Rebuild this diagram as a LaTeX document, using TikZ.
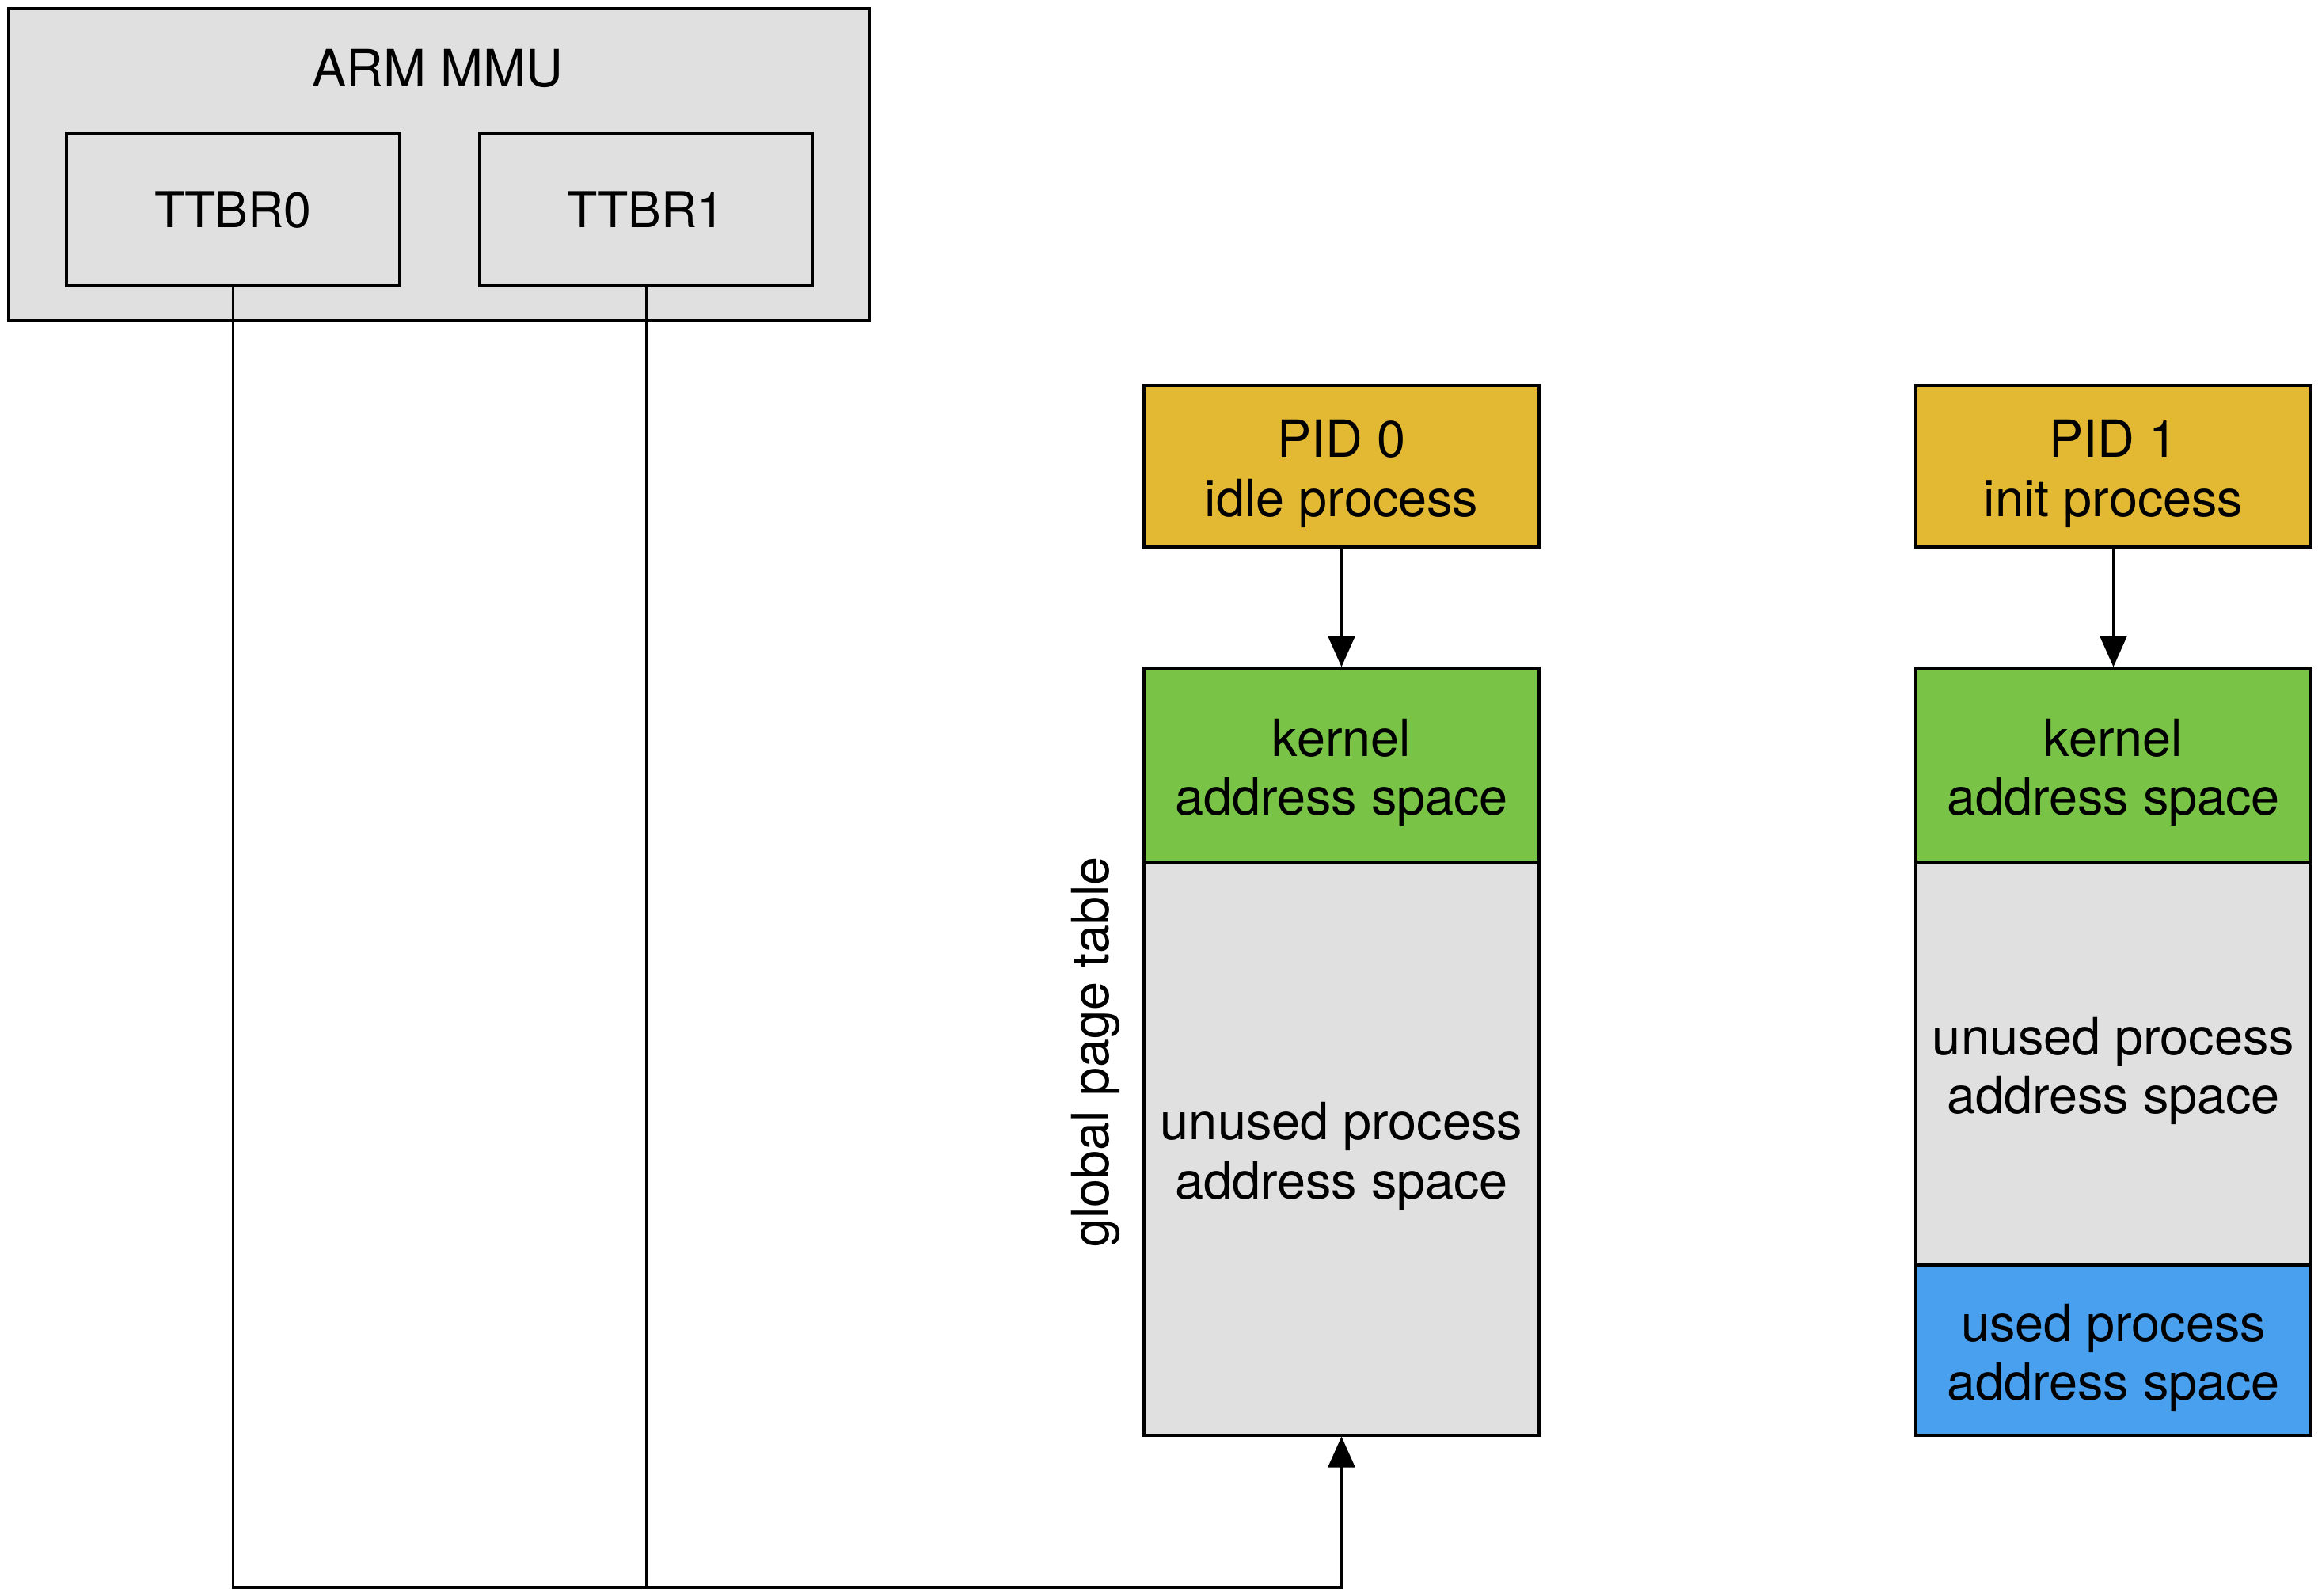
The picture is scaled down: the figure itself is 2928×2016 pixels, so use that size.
\documentclass[tikz,border=0pt]{standalone}
\usepackage{fontspec}
\setmainfont{TeX Gyre Heros}
\usetikzlibrary{arrows.meta}
\definecolor{mmugrey}{RGB}{224,224,224}
\definecolor{pidyellow}{RGB}{227,184,50}
\definecolor{kerngreen}{RGB}{121,196,70}
\definecolor{usedblue}{RGB}{72,160,238}
\newcommand{\twolines}[2]{\rule{0pt}{33pt}#1\\#2}
\tikzset{
  box/.style={draw=black, line width=1.6pt, rectangle, inner sep=0pt, align=center,
    font=\fontsize{32.4}{37.3}\selectfont, minimum width=249.5pt},
  regbox/.style={box, font=\fontsize{31.3}{36.5}\selectfont},
  conn/.style={line width=1.5pt},
  tip/.style={-{Triangle[width=17pt,length=19.5pt]}}
}
\begin{document}
\begin{tikzpicture}[x=0.5pt,y=-0.5pt]
\useasboundingbox (0,0) rectangle (2928,2016);
% ARM MMU
\node[box, fill=mmugrey, minimum width=543.5pt, minimum height=197pt] (mmu) at (554.5,208) {};
\node[font=\fontsize{32.4}{37.3}\selectfont, anchor=base, inner sep=0pt] (mmulabel) at (553,110) {ARM MMU};
\node[regbox, fill=mmugrey, minimum width=210.5pt, minimum height=96pt] (ttbr0) at (294.5,265) {TTBR0};
\node[regbox, fill=mmugrey, minimum width=210pt, minimum height=96pt] (ttbr1) at (816,265) {TTBR1};
% PID 0 column
\node[box, fill=pidyellow, minimum height=102pt] (pid0) at (1694.5,589) {\twolines{PID 0}{idle process}};
\node[box, fill=kerngreen, minimum height=122.5pt] (kern0) at (1694.5,966.5) {\twolines{kernel}{address space}};
\node[box, fill=mmugrey, minimum height=362pt] (unused0) at (1694.5,1451) {\twolines{unused process}{address space}};
\node[rotate=90, anchor=base, inner sep=0pt, font=\fontsize{32.4}{37.3}\selectfont] (gpt) at (1400,1329) {global page table};
% PID 1 column
\node[box, fill=pidyellow, minimum height=102pt] (pid1) at (2669.5,589) {\twolines{PID 1}{init process}};
\node[box, fill=kerngreen, minimum height=122.5pt] (kern1) at (2669.5,966.5) {\twolines{kernel}{address space}};
\node[box, fill=mmugrey, minimum height=254.5pt] (unused1) at (2669.5,1343.5) {\twolines{unused process}{address space}};
\node[box, fill=usedblue, minimum height=107.5pt] (used1) at (2669.5,1705.5) {\twolines{used process}{address space}};
% connectors
\draw[conn, tip] (pid0.south) -- (kern0.north);
\draw[conn, tip] (pid1.south) -- (kern1.north);
\coordinate (corner) at (1694.5,2005);
\draw[conn, tip] (ttbr0.south) |- (corner) -- (unused0.south);
\draw[conn] (ttbr1.south) -- (ttbr1.south |- corner);
\end{tikzpicture}
\end{document}
